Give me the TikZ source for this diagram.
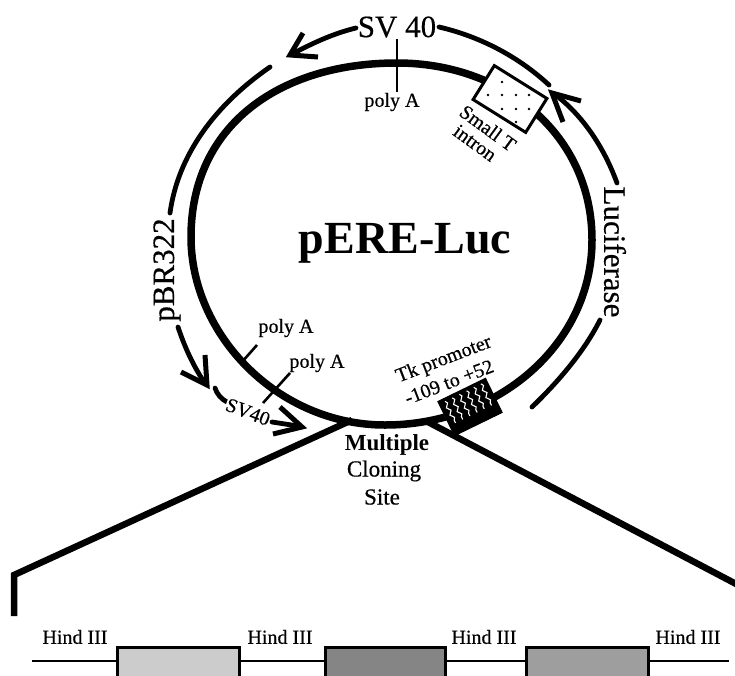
\documentclass[tikz,border=0pt]{standalone}
\usepackage{fontspec}
\setmainfont{Liberation Serif}
\newfontfamily\scanf{Liberation Serif}[RawFeature={embolden=0.5}]
\usetikzlibrary{decorations.pathmorphing}
\newcommand{\fsz}[1]{\fontsize{#1}{#1}\selectfont}
\tikzset{
  x=1pt,y=-1pt,
  ring/.style={line width=7.5pt},
  outer/.style={line width=4.8pt,line cap=round},
  head/.style={line width=5pt,miter limit=10},
  tick/.style={line width=2.6pt},
  big/.style={font=\scanf\fsz{31},inner sep=0pt},
  small/.style={font=\scanf\fsz{20},inner sep=0pt},
  mcs/.style={font=\scanf\fsz{23},inner sep=0pt},
  exp/.style={line width=6.5pt,miter limit=10},
  site/.style={draw,line width=2.6pt,minimum height=34pt,inner sep=0pt,anchor=north west},
  wave/.style={white,line width=1.1pt,decorate,decoration={snake,amplitude=1.6pt,segment length=8pt}},
  dotmark/.style={circle,fill=black,inner sep=0pt,minimum size=2.8pt},
}
\begin{document}
\begin{tikzpicture}
\useasboundingbox (0,0) rectangle (735,675);
\clip (0,0) rectangle (735,675);
% expansion lines
\coordinate (eL0) at (352,420);
\coordinate (eL1) at (14,575);
\coordinate (eL2) at (14,616);
\coordinate (eR0) at (428,422);
\coordinate (eR1) at (740,586);
\draw[exp] (eL0) -- (eL1) -- (eL2);
\draw[exp] (eR0) -- (eR1);
% plasmid ring
\draw[ring] (397,63) .. controls (505,63) and (592,135) .. (592,240)
  .. controls (592,345) and (497,425) .. (385,425)
  .. controls (278,425) and (191,335) .. (191,237)
  .. controls (191,125) and (280,63) .. cycle;
% poly A ticks
\coordinate (t1a) at (397,39);\coordinate (t1b) at (397,92);
\coordinate (t2a) at (242,362);\coordinate (t2b) at (257,345);
\coordinate (t3a) at (263,403);\coordinate (t3b) at (290,373);
\draw[tick] (t1a) -- (t1b);
\draw[tick] (t2a) -- (t2b);
\draw[tick] (t3a) -- (t3b);
\node[small] (pa1) at (392,102) {poly A};
\node[small] (pa2) at (286,328) {poly A};
\node[small] (pa3) at (317,363) {poly A};
% outer arcs
\draw[outer] (439,27) .. controls (482,37) and (520,58) .. (549,85);
\draw[outer] (356,28) .. controls (335,33) and (315,42) .. (296,52);
\draw[head] (303,33) -- (290,55) -- (318,57);
\draw[outer] (270,67) .. controls (215,105) and (178,155) .. (170,213);
\draw[outer] (178,327) .. controls (185,348) and (193,365) .. (204,382);
\draw[head] (181,372) -- (207,385) -- (205,355);
\draw[outer] (215,388) .. controls (217,394) and (221,399) .. (227,402);
\draw[outer] (272,422) -- (298,426);
\draw[head] (280,407) -- (302,427) -- (273,434);
\draw[outer] (617,183) .. controls (605,150) and (585,118) .. (557,96);
\draw[head] (581,101) -- (552,93) -- (563,122);
\draw[outer] (600,320) .. controls (585,350) and (560,380) .. (532,407);
% big labels
\node[big] (sv) at (397,27) {SV 40};
\node[big,rotate=90] (pbr) at (167,270) {pBR322};
\node[big,rotate=-90] (luc) at (615,252) {Luciferase};
\node[font=\fsz{46}\bfseries,inner sep=0pt] (title) at (405,243) {pERE-Luc};
\node[small,rotate=-21,fill=white,inner sep=0.5pt] (sv2) at (248,412) {SV40};
% small T box
\node[draw,fill=white,line width=3pt,rotate=-32,minimum width=62pt,minimum height=40pt,inner sep=0pt] (tbox) at (510,99) {};
\foreach \p in {(502,82),(488,95),(502,95),(516,95),(529,95),(502,109),(516,109),(529,109),(516,122)}
  \node[dotmark] at \p {};
\node[small,rotate=-36] (st) at (488,128) {Small T};
\node[small,rotate=-36] (in) at (475,143) {intron};
% Tk box
\node[draw,fill=black,line width=1pt,rotate=26,minimum width=53pt,minimum height=38pt,inner sep=0pt] (tk) at (470,407) {};
\begin{scope}[shift={(470,407)},rotate=26]
  \foreach \u in {-20,-12,-4,4,12,20}
    \draw[wave] (\u,-16) -- (\u,8);
\end{scope}
\node[small,rotate=21] (tk1) at (444,360) {Tk promoter};
\node[small,rotate=21] (tk2) at (449,382) {-109 to +52};
% Multiple cloning site
\node[font=\fsz{23}\bfseries,inner sep=0pt] (m1) at (387,445) {Multiple};
\node[mcs] (m2) at (384,471) {Cloning};
\node[mcs] (m3) at (382,497) {Site};
% linear map
\coordinate (lineA) at (32,661);
\coordinate (lineB) at (729,661);
\draw[line width=1.6pt] (lineA) -- (lineB);
\node[site,fill=black!20,minimum width=122pt] (b1) at (116,646) {};
\node[site,fill=black!48,minimum width=120pt] (b2) at (324,646) {};
\node[site,fill=black!38,minimum width=122pt] (b3) at (525,646) {};
\node[small] (h1) at (75,637) {Hind III};
\node[small] (h2) at (280,637) {Hind III};
\node[small] (h3) at (484,637) {Hind III};
\node[small] (h4) at (688,637) {Hind III};
\end{tikzpicture}
\end{document}
